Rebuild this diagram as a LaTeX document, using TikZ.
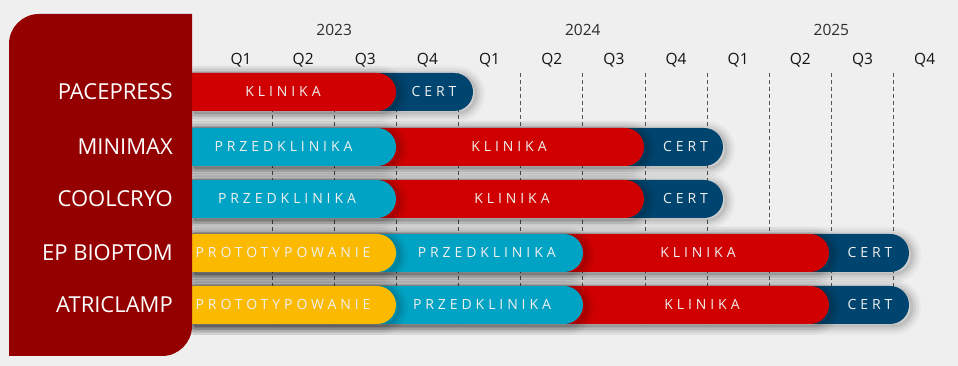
\documentclass[tikz,border=0pt]{standalone}
\usepackage{fontspec}
\setmainfont{Open Sans}
\newfontfamily\barfont[LetterSpace=28]{Open Sans}
\definecolor{bg}{HTML}{EFEFEF}
\definecolor{panel}{HTML}{940000}
\definecolor{cred}{HTML}{D00000}
\definecolor{ccyan}{HTML}{00A3C4}
\definecolor{cnavy}{HTML}{00456F}
\definecolor{cyellow}{HTML}{FBBA00}
\definecolor{gridc}{HTML}{555555}
\definecolor{yearc}{HTML}{2E2E2E}
\newcommand\seg[3]{%
  \foreach \w/\o in {18/0.03,13/0.04,8/0.055,3/0.08}{
    \draw[black, line width=\w pt, opacity=\o, line join=round, xshift=3pt, yshift=-2pt]
      (192,#2+19) -- (#1-19,#2+19) arc[start angle=90,end angle=-90,radius=19pt] -- (192,#2-19) -- cycle;
  }
  \fill[#3] (192,#2+19) -- (#1-19,#2+19) arc[start angle=90,end angle=-90,radius=19pt] -- (192,#2-19) -- cycle;
}
\tikzset{
  rowlbl/.style={anchor=east, text=white, font=\fontsize{22}{26}\selectfont, inner sep=0pt, text height=15.7pt, text depth=0pt},
  bt/.style={text=white!94!black, font=\barfont\fontsize{14}{17}\selectfont, inner sep=0pt, text height=10pt, text depth=0pt},
  qlbl/.style={anchor=base, inner sep=0pt, font=\fontsize{15.5}{18}\selectfont, text=black!92},
  ylbl/.style={anchor=base, inner sep=0pt, font=\fontsize{15.5}{18}\selectfont, text=yearc},
  gridline/.style={gridc, line width=0.8pt, dash pattern=on 4pt off 3pt}
}
\begin{document}
\begin{tikzpicture}[x=1pt,y=1pt]
\useasboundingbox (0,0) rectangle (958,366);
\fill[bg] (0,0) rectangle (958,366);
% grid
\foreach \k in {0,...,10}{
  \draw[gridline] ({272+62.15*\k},293) -- ({272+62.15*\k},41);
}
% quarter labels
\foreach \k/\q in {0/Q1,1/Q2,2/Q3,3/Q4,4/Q1,5/Q2,6/Q3,7/Q4,8/Q1,9/Q2,10/Q3,11/Q4}{
  \node[qlbl] (q\k) at ({241+62.15*\k},301) {\q};
}
\node[ylbl] (y2023) at (334.15,330.7) {2023};
\node[ylbl] (y2024) at (582.75,330.7) {2024};
\node[ylbl] (y2025) at (831.35,330.7) {2025};
% row 1 PACEPRESS
\seg{473}{274}{cnavy}
\seg{396}{274}{cred}
\node[bt] (r1a) at (283,274) {KLINIKA};
\node[bt] (r1b) at (434,274) {CERT};
% row 2 MINIMAX
\seg{723}{219}{cnavy}
\seg{644}{219}{cred}
\seg{396}{219}{ccyan}
\node[bt] (r2a) at (283.5,219) {PRZEDKLINIKA};
\node[bt] (r2b) at (509,219) {KLINIKA};
\node[bt] (r2c) at (685.5,219) {CERT};
% row 3 COOLCRYO
\seg{723}{167}{cnavy}
\seg{644}{167}{cred}
\seg{396}{167}{ccyan}
\node[bt] (r3a) at (287,167) {PRZEDKLINIKA};
\node[bt] (r3b) at (512,167) {KLINIKA};
\node[bt] (r3c) at (685.5,167) {CERT};
% row 4 EP BIOPTOM
\seg{909}{113}{cnavy}
\seg{829}{113}{cred}
\seg{583}{113}{ccyan}
\seg{396}{113}{cyellow}
\node[bt] (r4a) at (283,113) {PROTOTYPOWANIE};
\node[bt] (r4b) at (486.7,113) {PRZEDKLINIKA};
\node[bt] (r4c) at (698,113) {KLINIKA};
\node[bt] (r4d) at (870,113) {CERT};
% row 5 ATRICLAMP
\seg{909}{61}{cnavy}
\seg{829}{61}{cred}
\seg{583}{61}{ccyan}
\seg{396}{61}{cyellow}
\node[bt] (r5a) at (283,61) {PROTOTYPOWANIE};
\node[bt] (r5b) at (482,61) {PRZEDKLINIKA};
\node[bt] (r5c) at (702,61) {KLINIKA};
\node[bt] (r5d) at (870,61) {CERT};
% panel
\fill[panel] (9,10) -- (9,322) arc[start angle=180,end angle=90,radius=30pt] -- (192,352) -- (192,40) arc[start angle=0,end angle=-90,radius=30pt] -- cycle;
\node[rowlbl] (l1) at (173,274) {PACEPRESS};
\node[rowlbl] (l2) at (173,219) {MINIMAX};
\node[rowlbl] (l3) at (173,167) {COOLCRYO};
\node[rowlbl] (l4) at (173,113) {EP BIOPTOM};
\node[rowlbl] (l5) at (173,61) {ATRICLAMP};
\end{tikzpicture}
\end{document}
